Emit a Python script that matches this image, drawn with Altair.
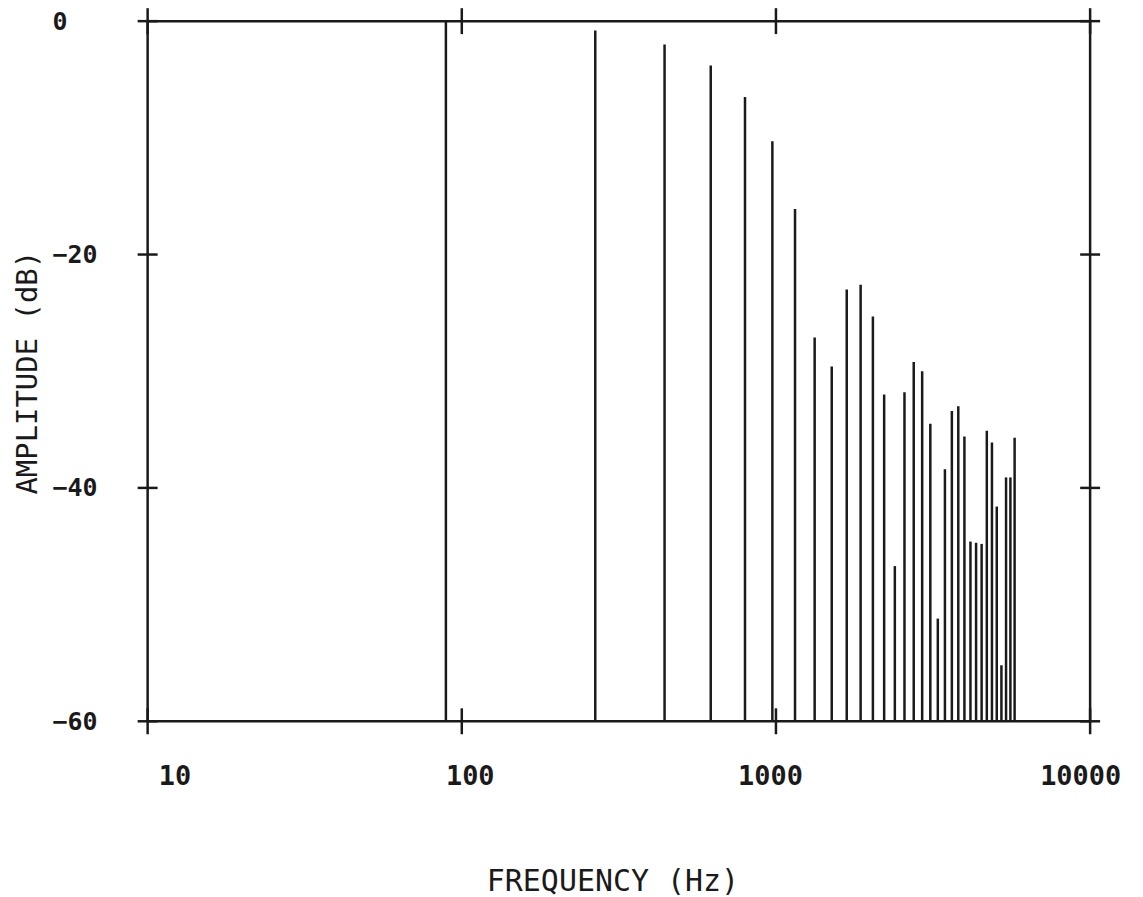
import altair as alt
import pandas as pd

# Harmonic frequencies (Hz) and their amplitudes (dB)
freq_hz = [89, 266, 442, 620, 797, 974, 1150, 1328, 1505, 1680, 1860, 2035,
           2210, 2390, 2565, 2745, 2920, 3100, 3275, 3450, 3630, 3805, 3980,
           4160, 4335, 4515, 4690, 4870, 5045, 5220, 5400, 5575, 5750]
amp_db = [0, -0.8, -2.0, -3.8, -6.5, -10.3, -16.1, -27.1, -29.6, -23.0, -22.6,
          -25.3, -32.0, -46.7, -31.8, -29.2, -30.0, -34.5, -51.2, -38.4, -33.4,
          -33.0, -35.6, -44.6, -44.7, -44.8, -35.1, -36.1, -41.6, -55.2, -39.1,
          -39.1, -35.7]

x_ticks = [10, 100, 1000, 10000]
y_ticks = [0, -20, -40, -60]
x_edges = [10, 10000]
y_edges = [0, -60]

FONT = "DejaVu Sans Mono"
INK = "#1a1a1a"

stems = pd.DataFrame({"f": freq_hz, "a": amp_db})
ytick_df = pd.DataFrame([{"f": xe, "a": yt} for xe in x_edges for yt in y_ticks])
xtick_df = pd.DataFrame([{"f": xt, "a": ye} for xt in x_ticks for ye in y_edges])

xscale = alt.Scale(type="log", domain=[10, 10000], nice=False)
yscale = alt.Scale(domain=[-60, 0], nice=False, zero=False)

xaxis = alt.Axis(
    values=x_ticks, format="d", ticks=False, tickSize=0, domain=False, grid=False,
    labelFont=FONT, labelFontSize=27, labelFontWeight="bold", labelColor=INK,
    labelPadding=55, labelBaseline="middle", labelFlush=False, labelOverlap=False,
    labelBound=False,
    labelOffset={"condition": [
        {"test": "datum.value == 10", "value": 27},
        {"test": "datum.value == 100", "value": 8},
        {"test": "datum.value == 1000", "value": -6},
    ], "value": -10},
    title="FREQUENCY (Hz)", titleFont=FONT, titleFontSize=30, titleFontWeight="normal",
    titleColor=INK, titleX=466, titleY=170, titleBaseline="alphabetic", titleAlign="center",
)
yaxis = alt.Axis(
    values=y_ticks, ticks=False, tickSize=0, domain=False, grid=False,
    labelFont=FONT, labelFontSize=25, labelFontWeight="bold", labelColor=INK,
    labelPadding=96, labelAlign="left", labelBaseline="middle", labelOverlap=False,
    labelBound=False, labelFlush=False,
    title="AMPLITUDE (dB)", titleFont=FONT, titleFontSize=29, titleFontWeight="normal",
    titleColor=INK, titleX=-111, titleY=352, titleAngle=270, titleBaseline="alphabetic",
    titleAlign="center",
)

stem_layer = alt.Chart(stems).mark_rule(color=INK, strokeWidth=2.5).encode(
    x=alt.X("f:Q", scale=xscale, axis=xaxis),
    y=alt.Y("a:Q", scale=yscale, axis=yaxis),
    y2=alt.datum(-60),
)

ytick_layer = alt.Chart(ytick_df).mark_tick(
    orient="horizontal", size=20, thickness=2.5, color=INK, opacity=1
).encode(x=alt.X("f:Q", scale=xscale), y=alt.Y("a:Q", scale=yscale))

xtick_layer = alt.Chart(xtick_df).mark_tick(
    orient="vertical", size=26, thickness=2.5, color=INK, opacity=1
).encode(x=alt.X("f:Q", scale=xscale), y=alt.Y("a:Q", scale=yscale))

chart = alt.layer(stem_layer, ytick_layer, xtick_layer).properties(
    width=945, height=702,
    autosize=alt.AutoSizeParams(type="none"),
    padding={"left": 140, "top": 12, "right": 45, "bottom": 178},
    background="white",
).configure_view(stroke=INK, strokeWidth=2.5)

chart.save("out.html", embed_options={"renderer": "svg", "actions": False})
